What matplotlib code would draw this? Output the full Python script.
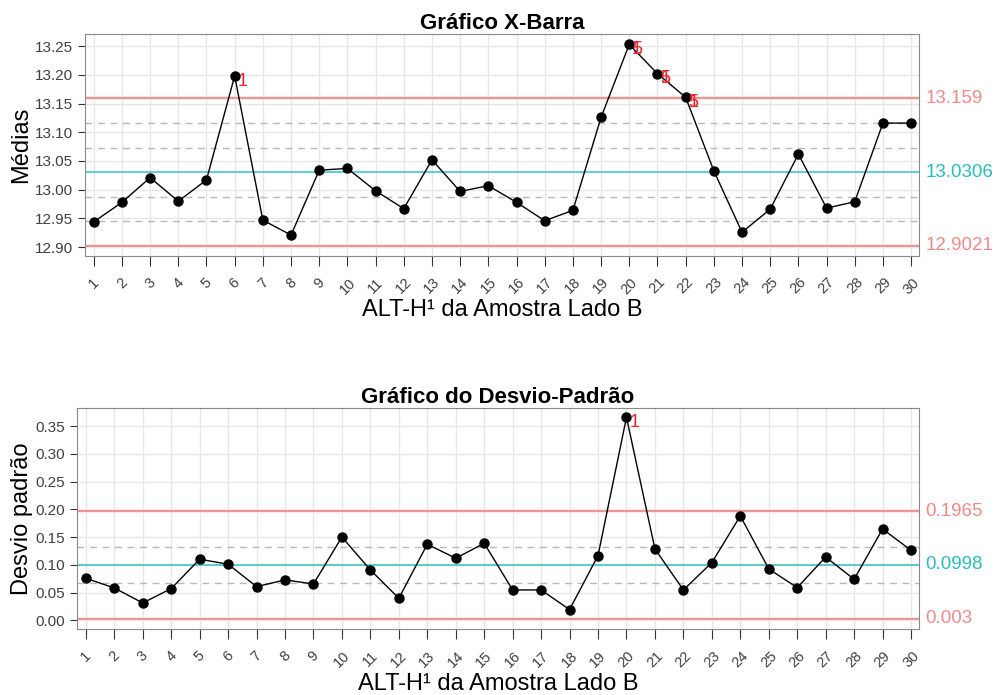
import numpy as np
import matplotlib.pyplot as plt

plt.rcParams['font.family'] = ['Liberation Sans', 'DejaVu Sans']

# Amostras
amostras = list(range(1, 31))

# Médias (gráfico X-barra)
medias = [12.944, 12.978, 13.021, 12.980, 13.017, 13.198, 12.947, 12.921, 13.034, 13.037,
          12.998, 12.967, 13.052, 12.997, 13.007, 12.978, 12.946, 12.964, 13.126, 13.253,
          13.202, 13.161, 13.033, 12.926, 12.966, 13.062, 12.968, 12.979, 13.116, 13.116]
lim_x = [12.9021, 13.0306, 13.159]   # LIC, LC, LSC
zonas_x = [12.945, 12.988, 13.0734, 13.116]
violacoes_x = [(6, '1'), (20, '1'), (20, '5'), (21, '1'), (21, '5'), (22, '1'), (22, '5')]

# Desvios-padrão
desvios = [0.0756, 0.0582, 0.0312, 0.0570, 0.1100, 0.1010, 0.0606, 0.0726, 0.0654, 0.1500,
           0.0906, 0.0396, 0.1370, 0.1117, 0.1387, 0.0546, 0.0546, 0.0192, 0.1165, 0.3656,
           0.1285, 0.0546, 0.1039, 0.1880, 0.0925, 0.0588, 0.1140, 0.0738, 0.1645, 0.1260]
lim_s = [0.003, 0.0998, 0.1965]
zonas_s = [0.0676, 0.1320]
violacoes_s = [(20, '1')]

verm = '#e47e82'
ciano = '#2ec4c4'
txt_verm = '#f08a8a'
txt_ciano = '#2bbcbc'

fig = plt.figure(figsize=(10, 6.95), dpi=100)


def painel(ax, y, lims, zonas, viol, titulo, ylab, rotulos, ylim, yticks, fmt):
    ax.set_xlim(0.69, 30.28)
    ax.set_ylim(*ylim)
    ax.set_xticks(amostras)
    ax.set_xticklabels([str(a) for a in amostras], rotation=45, fontsize=10.5, color='#404040')
    ax.set_yticks(yticks)
    ax.set_yticklabels([fmt % v for v in yticks], fontsize=11, color='#404040')
    ax.grid(True, color='#e6e6e6', linewidth=1)
    ax.set_axisbelow(True)
    for s in ax.spines.values():
        s.set_color('#8a8a8a')
    ax.tick_params(axis='x', length=7, color='#333333', pad=7)
    ax.tick_params(axis='y', length=5, color='#333333')
    for z in zonas:
        ax.axhline(z, color='#b8b8b8', linestyle=(0, (5, 4)), linewidth=1)
    for v, c in zip(lims, [verm, ciano, verm]):
        if c == verm:
            ax.axhline(v, color='#fbe6e6', linewidth=3, zorder=1)
        ax.axhline(v, color=c, linewidth=1.1, zorder=2)
    ax.plot(amostras, y, color='black', linewidth=1, marker='o', markersize=6.5, zorder=3)
    for i, lab in viol:
        ax.annotate(lab, (i, y[i - 1]), xytext=(2, -7), textcoords='offset points',
                    color='#e8262e', fontsize=13, zorder=4)
    for v, c, r in zip(lims, [txt_verm, txt_ciano, txt_verm], rotulos):
        ax.text(1.008, v, r, transform=ax.get_yaxis_transform(), color=c,
                fontsize=13.5, va='center', ha='left')
    ax.set_title(titulo, fontsize=16, fontweight='bold', pad=2)
    ax.set_xlabel('ALT-H¹ da Amostra Lado B', fontsize=17, labelpad=2)
    ax.set_ylabel(ylab, fontsize=17, labelpad=2)


ax1 = fig.add_axes([0.085, 0.632, 0.834, 0.319])
painel(ax1, medias, lim_x, zonas_x, violacoes_x, 'Gráfico X-Barra', 'Médias',
       ['12.9021', '13.0306', '13.159'], (12.885, 13.271),
       [12.90, 12.95, 13.00, 13.05, 13.10, 13.15, 13.20, 13.25], '%.2f')

ax2 = fig.add_axes([0.077, 0.095, 0.842, 0.318])
painel(ax2, desvios, lim_s, zonas_s, violacoes_s, 'Gráfico do Desvio-Padrão', 'Desvio padrão',
       ['0.003', '0.0998', '0.1965'], (-0.0157, 0.3825),
       [0.00, 0.05, 0.10, 0.15, 0.20, 0.25, 0.30, 0.35], '%.2f')

fig.savefig('out.png', dpi=100, facecolor='white')
